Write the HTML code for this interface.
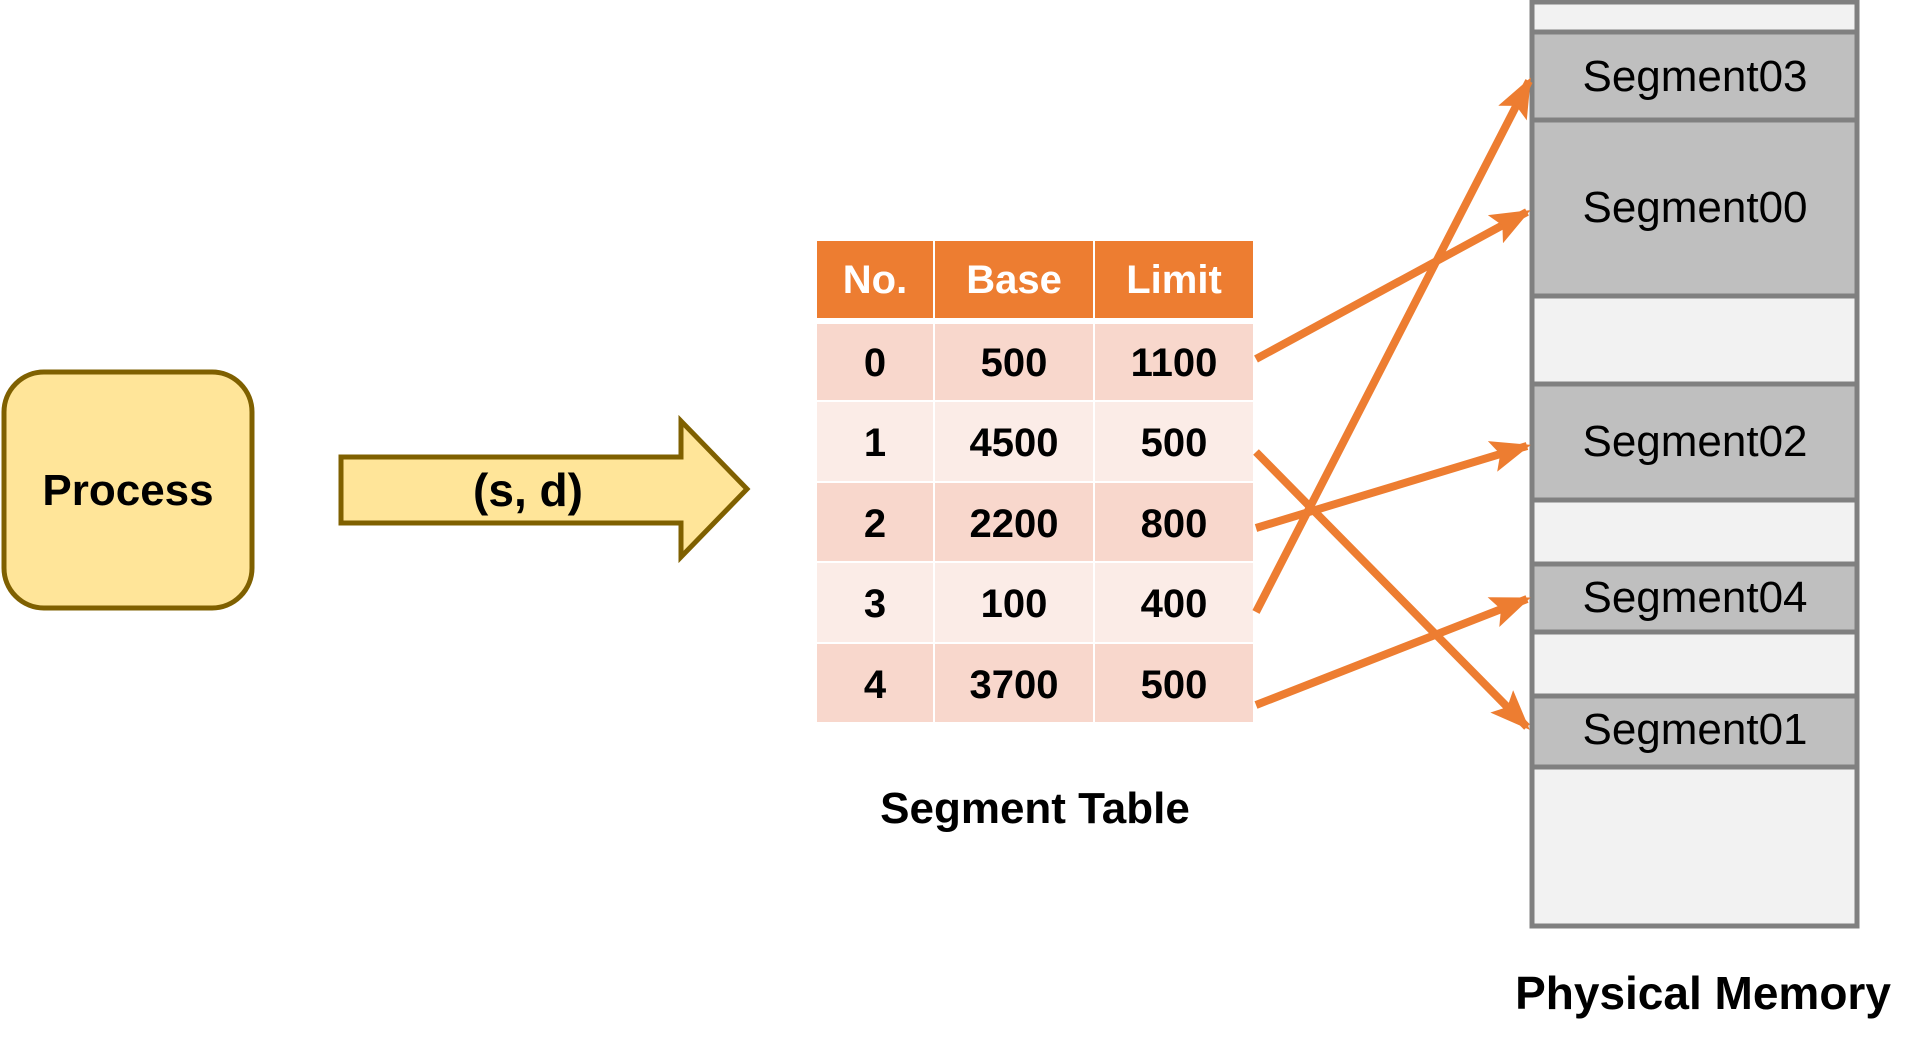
<!DOCTYPE html>
<html><head><meta charset="utf-8"><style>
html,body{margin:0;padding:0;background:#fff;}
svg{display:block;}
text{font-family:"Liberation Sans",sans-serif;}
</style></head><body>
<svg width="1926" height="1045" viewBox="0 0 1926 1045" xmlns="http://www.w3.org/2000/svg">
<defs>
<marker id="ah" markerWidth="5" markerHeight="4" refX="4.5" refY="2" orient="auto" markerUnits="strokeWidth">
<path d="M0,0 L5,2 L0,4 L1,2 Z" fill="#ED7D31"/>
</marker>
</defs>
<!-- Process -->
<rect x="4" y="372" width="248" height="236" rx="40" ry="40" fill="#FFE599" stroke="#7F6000" stroke-width="5"/>
<text x="128" y="505" font-size="44" font-weight="bold" text-anchor="middle">Process</text>
<!-- big arrow -->
<path d="M341,457 L681,457 L681,421 L747,489 L681,557 L681,523 L341,523 Z" fill="#FFE599" stroke="#7F6000" stroke-width="5"/>
<text x="528" y="506" font-size="46" font-weight="bold" text-anchor="middle">(s, d)</text>
<!-- table -->
<g font-size="40" font-weight="bold" text-anchor="middle">
<rect x="817" y="241" width="116" height="77" fill="#ED7D31"/>
<rect x="935" y="241" width="158" height="77" fill="#ED7D31"/>
<rect x="1095" y="241" width="158" height="77" fill="#ED7D31"/>
<text x="875" y="293" fill="#fff">No.</text>
<text x="1014" y="293" fill="#fff">Base</text>
<text x="1174" y="293" fill="#fff">Limit</text>

<g fill="#F8D7CC">
<rect x="817" y="324" width="116" height="76"/><rect x="935" y="324" width="158" height="76"/><rect x="1095" y="324" width="158" height="76"/>
<rect x="817" y="483" width="116" height="78"/><rect x="935" y="483" width="158" height="78"/><rect x="1095" y="483" width="158" height="78"/>
<rect x="817" y="644" width="116" height="78"/><rect x="935" y="644" width="158" height="78"/><rect x="1095" y="644" width="158" height="78"/>
</g>
<g fill="#FBECE7">
<rect x="817" y="402" width="116" height="79"/><rect x="935" y="402" width="158" height="79"/><rect x="1095" y="402" width="158" height="79"/>
<rect x="817" y="563" width="116" height="79"/><rect x="935" y="563" width="158" height="79"/><rect x="1095" y="563" width="158" height="79"/>
</g>
<text x="875" y="376">0</text><text x="1014" y="376">500</text><text x="1174" y="376">1100</text>
<text x="875" y="456">1</text><text x="1014" y="456">4500</text><text x="1174" y="456">500</text>
<text x="875" y="537">2</text><text x="1014" y="537">2200</text><text x="1174" y="537">800</text>
<text x="875" y="617">3</text><text x="1014" y="617">100</text><text x="1174" y="617">400</text>
<text x="875" y="698">4</text><text x="1014" y="698">3700</text><text x="1174" y="698">500</text>
</g>
<text x="1035" y="823" font-size="44" font-weight="bold" text-anchor="middle">Segment Table</text>
<!-- memory -->
<g stroke="#808080" stroke-width="5">
<rect x="1532" y="2" width="325" height="924" fill="#F2F2F2"/>
<rect x="1532" y="32" width="325" height="88" fill="#BFBFBF"/>
<rect x="1532" y="120" width="325" height="176" fill="#BFBFBF"/>
<rect x="1532" y="384" width="325" height="116" fill="#BFBFBF"/>
<rect x="1532" y="564" width="325" height="68" fill="#BFBFBF"/>
<rect x="1532" y="696" width="325" height="71" fill="#BFBFBF"/>
</g>
<g font-size="44" text-anchor="middle">
<text x="1695" y="91">Segment03</text>
<text x="1695" y="222">Segment00</text>
<text x="1695" y="456">Segment02</text>
<text x="1695" y="612">Segment04</text>
<text x="1695" y="744">Segment01</text>
</g>
<text x="1703" y="1009" font-size="46" font-weight="bold" text-anchor="middle">Physical Memory</text>
<!-- connectors -->
<g stroke="#ED7D31" stroke-width="8" fill="none" marker-end="url(#ah)">
<line x1="1256" y1="359" x2="1527" y2="212"/>
<line x1="1256" y1="452" x2="1527" y2="727"/>
<line x1="1256" y1="528" x2="1527" y2="446"/>
<line x1="1256" y1="612" x2="1529" y2="81"/>
<line x1="1256" y1="705" x2="1527" y2="599"/>
</g>
</svg>
</body></html>
